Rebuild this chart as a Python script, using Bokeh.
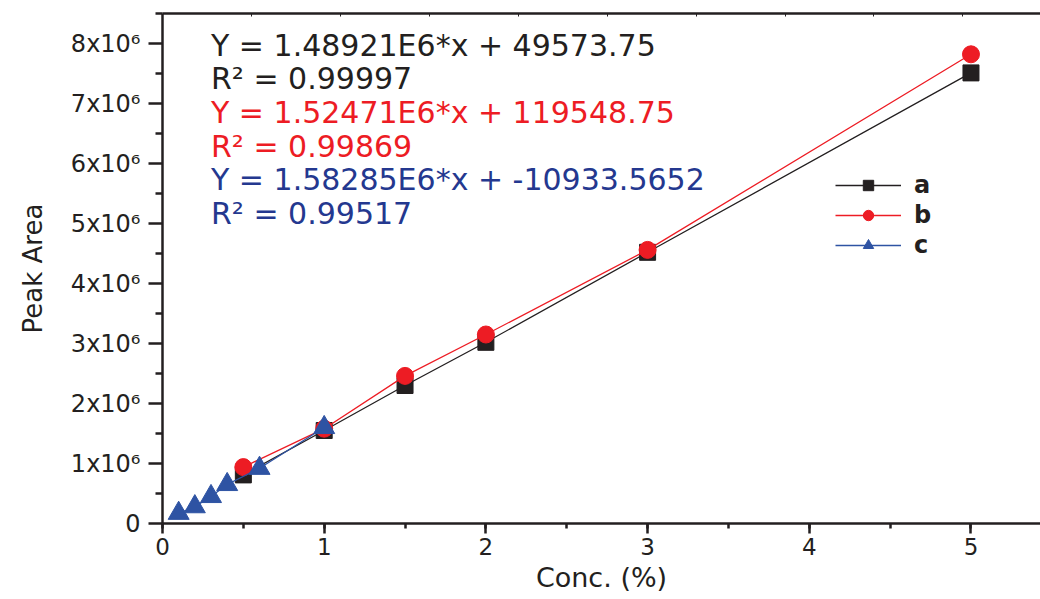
from bokeh.plotting import figure
from bokeh.models import Range1d, LinearAxis, FixedTicker, SingleIntervalTicker, Legend, LegendItem
from bokeh.core.properties import value
from bokeh.embed import file_html
from bokeh.resources import INLINE

# ---- data ----
conc_a = [0.5, 1.0, 1.5, 2.0, 3.0, 5.0]
area_a = [0.81e6, 1.55e6, 2.30e6, 3.02e6, 4.52e6, 7.51e6]
conc_b = [0.5, 1.0, 1.5, 2.0, 3.0, 5.0]
area_b = [0.94e6, 1.58e6, 2.46e6, 3.15e6, 4.56e6, 7.82e6]
conc_c = [0.1, 0.2, 0.3, 0.4, 0.6, 1.0]
area_c = [0.17e6, 0.28e6, 0.45e6, 0.65e6, 0.92e6, 1.60e6]
series_names = ["a", "b", "c"]
y_tick_values = [0, 1e6, 2e6, 3e6, 4e6, 5e6, 6e6, 7e6, 8e6]
y_tick_labels = ["0", "1x10⁶", "2x10⁶", "3x10⁶", "4x10⁶", "5x10⁶", "6x10⁶", "7x10⁶", "8x10⁶"]
equations = [
    "Y = 1.48921E6*x + 49573.75",
    "R² = 0.99997",
    "Y = 1.52471E6*x + 119548.75",
    "R² = 0.99869",
    "Y = 1.58285E6*x + -10933.5652",
    "R² = 0.99517",
]

BLACK = "#231f20"
RED = "#ed1c24"
BLUE = "#2e53a3"
NAVY = "#24388f"
eq_colors = [BLACK, BLACK, RED, RED, NAVY, NAVY]
FONT = "DejaVu Sans"

p = figure(width=1040, height=599, output_backend="svg", toolbar_location=None,
           x_range=Range1d(0, 5.43), y_range=Range1d(0, 8.5e6),
           min_border_left=162, min_border_right=0, min_border_top=13, min_border_bottom=76)
p.outline_line_color = None
p.xgrid.visible = False
p.ygrid.visible = False
p.background_fill_color = "white"
p.border_fill_color = "white"

# axes styling
for ax in (p.xaxis[0], p.yaxis[0]):
    ax.axis_line_color = BLACK
    ax.axis_line_width = 2.5
    ax.major_tick_line_color = BLACK
    ax.major_tick_line_width = 2.5
    ax.minor_tick_line_color = BLACK
    ax.minor_tick_line_width = 2.5
    ax.major_tick_in = 0
    ax.minor_tick_in = 0
    ax.major_label_text_font = FONT
    ax.major_label_text_color = BLACK
    ax.axis_label_text_font = FONT
    ax.axis_label_text_color = BLACK
    ax.axis_label_text_font_style = "normal"

p.xaxis.ticker = SingleIntervalTicker(interval=1, num_minor_ticks=2)
p.xaxis.major_tick_out = 10
p.xaxis.minor_tick_out = 5
p.xaxis.major_label_text_font_size = "23px"
p.xaxis.major_label_standoff = 4
p.xaxis.axis_label = "Conc. (%)"
p.xaxis.axis_label_text_font_size = "27px"
p.xaxis.axis_label_standoff = 4

p.yaxis.ticker = FixedTicker(ticks=y_tick_values,
                             minor_ticks=[v + 0.5e6 for v in y_tick_values])
p.yaxis.major_label_overrides = {v: s for v, s in zip(y_tick_values, y_tick_labels)}
p.yaxis.major_tick_out = 14
p.yaxis.minor_tick_out = 7
p.yaxis.major_label_text_font_size = "24px"
p.yaxis.major_label_standoff = 8
p.yaxis.axis_label = "Peak Area"
p.yaxis.axis_label_text_font_size = "26px"
p.yaxis.axis_label_standoff = 20

# top frame line with small inward ticks (minor ticks only, no labels)
top = LinearAxis(ticker=FixedTicker(ticks=[], minor_ticks=[0.55 * i for i in range(1, 10)]),
                 axis_line_color=BLACK, axis_line_width=2.5,
                 major_tick_line_color=None,
                 minor_tick_in=3, minor_tick_out=0, minor_tick_line_color=BLACK,
                 minor_tick_line_width=1, major_label_standoff=0)
p.add_layout(top, "above")

# series
ra_l = p.line(conc_a, area_a, line_color=BLACK, line_width=1.3)
ra_m = p.scatter(conc_a, area_a, marker="square", size=16, fill_color=BLACK, line_color=BLACK)
rb_l = p.line(conc_b, area_b, line_color=RED, line_width=1.3)
rb_m = p.scatter(conc_b, area_b, marker="circle", size=17, fill_color=RED, line_color=RED)
rc_l = p.line(conc_c, area_c, line_color=BLUE, line_width=1.3)
rc_m = p.scatter(conc_c, area_c, marker="triangle", size=21, fill_color=BLUE, line_color=BLUE)

legend = Legend(items=[
    LegendItem(label=series_names[0], renderers=[ra_l, ra_m]),
    LegendItem(label=series_names[1], renderers=[rb_l, rb_m]),
    LegendItem(label=series_names[2], renderers=[rc_l, rc_m]),
], location=(673, 264), glyph_width=66, glyph_height=26, spacing=2, padding=0,
    label_standoff=13, label_text_font=FONT, label_text_font_size="24px",
    label_text_font_style="bold", label_text_color=BLACK, label_height=26,
    border_line_color=None, background_fill_alpha=0)
p.add_layout(legend)

# equation annotations
eq_x = [0.30] * len(equations)
eq_y = [7.97e6 - i * 0.56e6 for i in range(len(equations))]
p.text(x=eq_x, y=eq_y, text=equations, text_color=eq_colors,
       text_font=value(FONT), text_font_size="30px", text_baseline="middle", text_align="left")

open("out.html", "w").write(file_html(p, INLINE))
